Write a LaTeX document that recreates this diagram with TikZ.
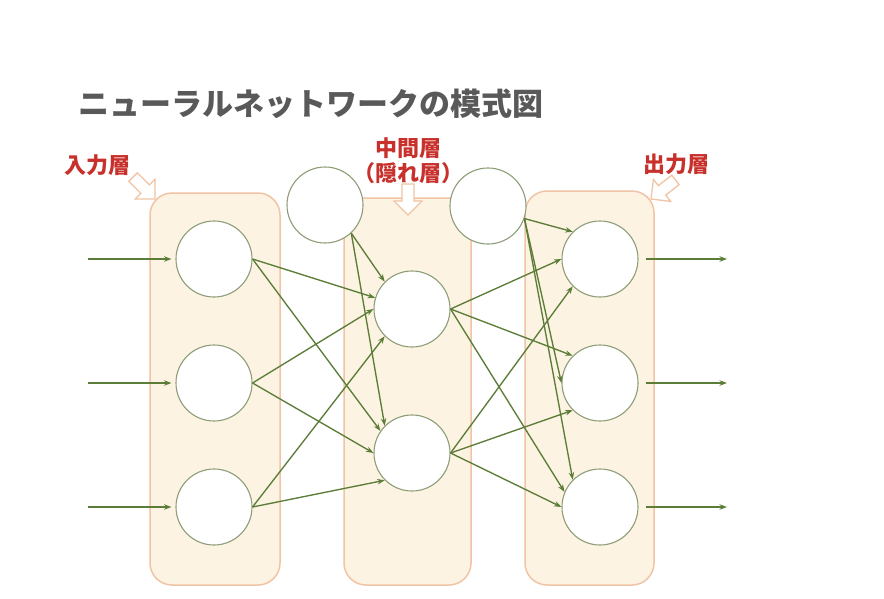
\documentclass[tikz,border=0pt]{standalone}
\usepackage{fontspec}
\newfontfamily\jp{Noto Sans CJK JP}
\usetikzlibrary{arrows.meta}
\definecolor{boxfill}{HTML}{FDF3E2}
\definecolor{boxline}{HTML}{F0C4A4}
\definecolor{circline}{HTML}{8E9E78}
\definecolor{edgecol}{HTML}{5B7D38}
\definecolor{labred}{HTML}{C8302B}
\definecolor{titlegray}{HTML}{595959}
\tikzset{
  layerbox/.style={draw=boxline, line width=1.5pt, fill=boxfill, rounded corners=22pt},
  neuron/.style={circle, draw=circline, line width=1.1pt, fill=white, minimum size=76pt, inner sep=0pt},
  edge/.style={draw=edgecol, line width=1.35pt, -{Stealth[length=7.5pt,width=5.5pt]}},
  blockarr/.style={draw=boxline, line width=1.3pt, fill=white, line join=miter},
  lab/.style={text=labred, font=\jp\bfseries\fontsize{22}{25}\selectfont, align=center, inner sep=0pt},
}
\newcommand\hollowarrow[3]{%
  \begin{scope}[shift={(#1,#2)}, rotate=#3]
    \draw[blockarr] (0,0) -- (-14,14) -- (-14,6) -- (-31,6) -- (-31,-6) -- (-14,-6) -- (-14,-14) -- cycle;
  \end{scope}}
\begin{document}
\begin{tikzpicture}[x=1pt,y=-1pt]
\useasboundingbox (0,0) rectangle (884,598);
\fill[white] (0,0) rectangle (884,598);
% layer boxes
\draw[layerbox] (150,193) rectangle (280,585);
\draw[layerbox] (344,198) rectangle (471,585);
\draw[layerbox] (525,191) rectangle (654,585);
% hollow pointer arrows
\hollowarrow{155}{199}{-45}
\hollowarrow{408}{215}{-90}
\hollowarrow{651}{199}{-142}
% title and labels
\node[anchor=west, text=titlegray, font=\jp\bfseries\fontsize{31}{34}\selectfont, inner sep=0pt] (title) at (78,104) {ニューラルネットワークの模式図};
\node[lab] (linput) at (97,165) {入力層};
\node[lab] (lhidden) at (408,161) {中間層\\（隠れ層）};
\node[lab] (loutput) at (676,164) {出力層};
% neurons
\node[neuron] (i1) at (214,259) {};
\node[neuron] (i2) at (214,383) {};
\node[neuron] (i3) at (214,507) {};
\node[neuron] (h1) at (412,309) {};
\node[neuron] (h2) at (412,453) {};
\node[neuron] (b1) at (325,205) {};
\node[neuron] (b2) at (488,206) {};
\node[neuron] (o1) at (600,259) {};
\node[neuron] (o2) at (600,383) {};
\node[neuron] (o3) at (600,507) {};
% inputs
\coordinate (s1) at (88,259);
\coordinate (s2) at (88,383);
\coordinate (s3) at (88,507);
\draw[edge, shorten >=4pt] (s1) -- (i1.west);
\draw[edge, shorten >=4pt] (s2) -- (i2.west);
\draw[edge, shorten >=4pt] (s3) -- (i3.west);
% outputs
\coordinate (t1) at (727,259);
\coordinate (t2) at (727,383);
\coordinate (t3) at (727,507);
\draw[edge, shorten <=7pt] (o1.east) -- (t1);
\draw[edge, shorten <=7pt] (o2.east) -- (t2);
\draw[edge, shorten <=7pt] (o3.east) -- (t3);
% input -> hidden
\draw[edge] (i1.east) -- (h1.163);
\draw[edge] (i1.east) -- (h2.145);
\draw[edge] (i2.east) -- (h1.west);
\draw[edge] (i2.east) -- (h2.west);
\draw[edge] (i3.east) -- (h1.south west);
\draw[edge] (i3.east) -- (h2.south west);
\draw[edge] (b1.-47) -- (h1.north west);
\draw[edge] (b1.-47) -- (h2.north west);
% hidden -> output
\draw[edge] (h1.east) -- (o1.west);
\draw[edge] (h1.east) -- (o2.north west);
\draw[edge] (h1.east) -- (o3.157);
\draw[edge] (h2.east) -- (o1.south west);
\draw[edge] (h2.east) -- (o2.south west);
\draw[edge] (h2.east) -- (o3.west);
\draw[edge] (b2.-19) -- (o1.north west);
\draw[edge] (b2.-19) -- (o2.west);
\draw[edge] (b2.-19) -- (o3.north west);
\end{tikzpicture}
\end{document}
